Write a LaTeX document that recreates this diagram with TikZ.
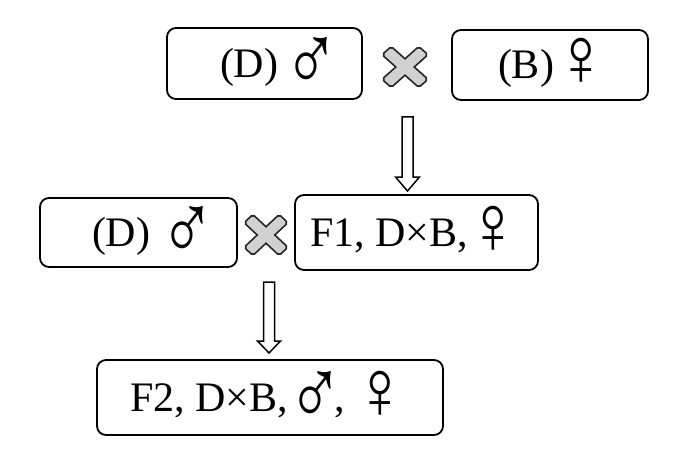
\documentclass[tikz,border=0pt]{standalone}
\usepackage{fontspec}
\setmainfont{Liberation Serif}
\newfontfamily\symfont{Liberation Sans}
\usetikzlibrary{calc}
\newcommand{\malesym}{\makebox[33pt]{\symfont\fontsize{96}{98}\selectfont\raisebox{-14pt}{\scalebox{0.78}[1]{♂}}}}
\newcommand{\femsym}{\makebox[22pt]{\symfont\fontsize{84}{86}\selectfont\raisebox{-7pt}{\scalebox{0.85}[1]{♀}}}}
\begin{document}
\begin{tikzpicture}[x=1pt,y=-1pt,
  box/.style={draw=black, line width=1.8pt, rounded corners=9pt, inner sep=0pt,
    font=\fontsize{42}{44}\selectfont, anchor=center, text height=38pt, text depth=10pt},
  hollow/.style={draw=black, line width=1.5pt, fill=white, line join=miter},
  crossline/.style={draw=black!85, line width=3.5pt},
  crossfill/.style={fill=black!18},
  xmark/.pic={
    \begin{scope}[rotate=45]\draw[crossline,rounded corners=1.5pt] (-25,-5.5) rectangle (25,5.5);\end{scope}
    \begin{scope}[rotate=-45]\draw[crossline,rounded corners=1.5pt] (-25,-5.5) rectangle (25,5.5);\end{scope}
    \begin{scope}[rotate=45]\fill[crossfill,rounded corners=1.5pt] (-25,-5.5) rectangle (25,5.5);\end{scope}
    \begin{scope}[rotate=-45]\fill[crossfill,rounded corners=1.5pt] (-25,-5.5) rectangle (25,5.5);\end{scope}
  }]
\useasboundingbox (0,0) rectangle (700,449);
% boxes
\node[box, minimum width=195pt, minimum height=71pt] (A) at (264.5,63.5)
  {\makebox[195pt][l]{\hspace*{53pt}(D)\hspace{17pt}\malesym}};
\node[box, minimum width=196pt, minimum height=70pt] (B) at (550,65)
  {\makebox[196pt][l]{\hspace*{46pt}(B)\hspace{16pt}\femsym}};
\node[box, minimum width=197pt, minimum height=69pt] (C) at (138.5,232.5)
  {\makebox[197pt][l]{\hspace*{52pt}(D)\hspace{21pt}\malesym}};
\node[box, minimum width=243pt, minimum height=75pt] (F1) at (416.5,232.5)
  {\makebox[243pt][l]{\hspace*{15pt}F1, D×B,\hspace{14pt}\femsym}};
\node[box, minimum width=346pt, minimum height=75pt] (F2) at (270,397.5)
  {\makebox[346pt][l]{\hspace*{33pt}F2, D×B,\hspace{11pt}\malesym\hspace{3pt},\hspace{24pt}\femsym}};
% crosses
\coordinate (x1) at (405,67);
\coordinate (x2) at (266,235);
\pic[yscale=0.89] at (x1) {xmark};
\pic[xscale=0.95,yscale=0.89] at (x2) {xmark};
% hollow arrows
\coordinate (a1t) at (407.5,117);
\coordinate (a1p) at (407.5,191);
\coordinate (a2t) at (269,282);
\coordinate (a2p) at (269,353);
\draw[hollow] ($(a1t)+(-5.5,0)$) -- ($(a1t)+(5.5,0)$) -- ($(a1p)+(5.5,-14)$) -- ($(a1p)+(12,-14)$)
  -- (a1p) -- ($(a1p)+(-12,-14)$) -- ($(a1p)+(-5.5,-14)$) -- cycle;
\draw[hollow] ($(a2t)+(-5.5,0)$) -- ($(a2t)+(5.5,0)$) -- ($(a2p)+(5.5,-12)$) -- ($(a2p)+(11.5,-12)$)
  -- (a2p) -- ($(a2p)+(-11.5,-12)$) -- ($(a2p)+(-5.5,-12)$) -- cycle;
\end{tikzpicture}
\end{document}
